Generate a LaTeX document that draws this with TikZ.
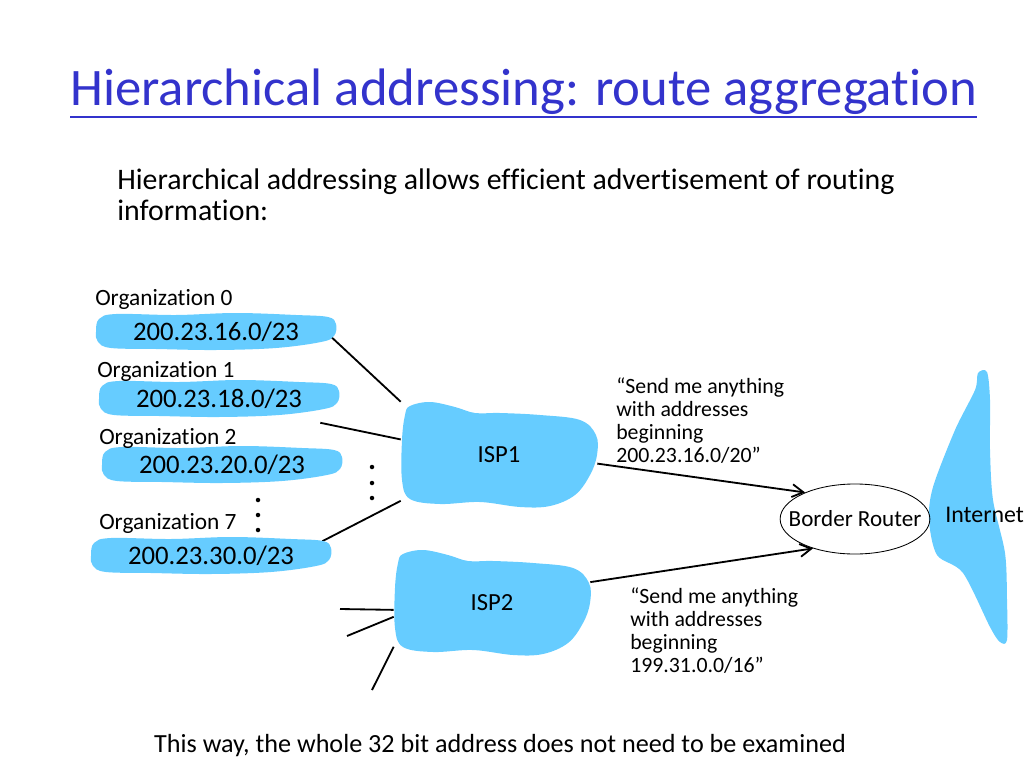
\documentclass[tikz,border=0pt]{standalone}
\usepackage{fontspec}
\setmainfont{Carlito}[Ligatures={TeX,NoCommon}]
\usepackage{tikz}
\usetikzlibrary{shapes.geometric, arrows.meta, positioning, calc, backgrounds}
\definecolor{ttlblue}{RGB}{51,51,204}
\definecolor{netblue}{RGB}{102,204,255}
\definecolor{inkdark}{RGB}{0,0,0}
\tikzset{
  ttl/.style      = {text=ttlblue, inner sep=0pt, font=\fontsize{37.5}{42}\selectfont},
  intro/.style    = {text=inkdark, align=left, inner sep=0pt,
                     font=\fontsize{21.2}{21.5}\selectfont},
  orglab/.style   = {text=inkdark, inner sep=0pt, font=\fontsize{16.6}{19}\selectfont},
  orgaddr/.style  = {rectangle, minimum width=6cm, minimum height=0.925cm,
                     inner sep=0pt, text=inkdark, font=\fontsize{19}{21}\selectfont},
  isp/.style      = {rectangle, minimum width=4.9cm, minimum height=2.65cm,
                     inner sep=0pt, text=inkdark, font=\fontsize{17.5}{19}\selectfont},
  router/.style   = {ellipse, draw=inkdark, line width=0.6pt, minimum width=3.675cm,
                     minimum height=1.75cm, inner xsep=-9.5pt, inner ysep=0pt, text=inkdark,
                     font=\fontsize{16.4}{18}\selectfont},
  cloudlab/.style = {text=inkdark, inner sep=0pt, font=\fontsize{17}{19}\selectfont},
  advert/.style   = {text=inkdark, align=left, inner sep=0pt,
                     font=\fontsize{15.5}{16.5}\selectfont},
  note/.style     = {text=inkdark, inner sep=0pt, font=\fontsize{18.6}{21}\selectfont},
  link/.style     = {line width=1.3pt, draw=inkdark},
  adv/.style      = {-{Straight Barb[length=2.8mm, width=3.2mm]}, line width=1.3pt, draw=inkdark},
  orgblob/.pic    = {\fill[netblue] plot[smooth cycle, tension=0.6] coordinates {
                       (-120,0) (-117,-13) (-100,-18) (-40,-17) (20,-19) (80,-17)
                       (112,-15) (120,-8) (118,4) (105,10) (60,16) (0,18) (-60,17)
                       (-105,16) (-118,10)};},
  ispblob/.pic    = {\fill[netblue] plot[smooth cycle, tension=0.6] coordinates {
                       (-89,-49) (-69,-53) (-44,-48) (-24,-42) (1,-42) (41,-40)
                       (81,-35) (97,-20) (98,0) (91,20) (76,40) (51,51) (21,52)
                       (-19,47) (-59,49) (-89,44) (-97,25) (-97,-15) (-94,-40)};},
}

\begin{document}
\begin{tikzpicture}[x=0.025cm, y=-0.025cm]
  \useasboundingbox (0,0) rectangle (1024,768);

  % title and introduction
  \node[ttl, anchor=base west] (title) at (70,106) {Hierarchical addressing: route aggregation};
  \draw[ttlblue, line width=1.8pt] ($(title.base west)+(0,11)$) -- ($(title.base east)+(0,11)$);
  \node[intro, anchor=north west] (intro) at (117,169)
    {Hierarchical addressing allows efficient advertisement of routing\\information:};

  % organizations
  \node[orglab, anchor=base west] (lab0) at (95,305) {Organization 0};
  \node[orgaddr] (org0) at (216,332) {200.23.16.0/23};
  \node[orglab, anchor=base west] (lab1) at (97,377) {Organization 1};
  \node[orgaddr] (org1) at (219,399) {200.23.18.0/23};
  \node[orglab, anchor=base west] (lab2) at (99,444) {Organization 2};
  \node[orgaddr] (org2) at (222,465) {200.23.20.0/23};
  \node[orglab, anchor=base west] (lab7) at (99,529) {Organization 7};
  \node[orgaddr] (org7) at (211,556) {200.23.30.0/23};

  % providers, router, internet
  \node[isp] (isp1) at (499,455) {ISP1};
  \node[isp] (isp2) at (492,603) {ISP2};
  \node[router] (br) at (855,519) {Border Router};
  \node[cloudlab, anchor=base west] (inet) at (945,522) {Internet};

  \node[advert, anchor=north west] (adv1) at (616,377)
    {``Send me anything\\with addresses\\beginning\\200.23.16.0/20''};
  \node[advert, anchor=north west] (adv2) at (630,587)
    {``Send me anything\\with addresses\\beginning\\199.31.0.0/16''};

  \node[note, anchor=base] (note) at (500,752)
    {This way, the whole 32 bit address does not need to be examined};

  \coordinate (e1) at (340,609);
  \coordinate (e2) at (347,636);
  \coordinate (e3) at (372,690);

  \foreach \y in {500,515,530} \fill[inkdark] (258,\y) circle[radius=1.6pt];
  \foreach \y in {467,483,498} \fill[inkdark] (372,\y) circle[radius=1.6pt];

  \begin{scope}[on background layer]
    \draw[link] ($(org0.east)+(-5,5)$) -- (isp1.north west);
    \draw[link] ($(org1.south east)+(-19,5)$) -- (isp1.171);
    \draw[link] ($(org7.north east)+(-9,4)$) -- (isp1.205);
    \draw[link] (e1) -- (isp2.184);
    \draw[link] (e2) -- (isp2.188);
    \draw[link] (e3) -- (isp2.204);
    \foreach \o in {org0,org1,org2,org7} \pic at (\o) {orgblob};
    \pic at (isp1) {ispblob};
    \pic at (isp2) {ispblob};
    \fill[netblue] plot[smooth cycle, tension=0.5] coordinates {
      (978,373) (987,372) (990,400) (990,450) (993,500) (1005,553) (1007,600)
      (1007,640) (1000,642) (990,627) (963,573) (937,555) (929,520) (933,487)
      (955,430) (975,390)};
  \end{scope}

  \draw[adv] (isp1.-5) -- (br.152);
  \draw[adv] (isp2.12) -- (br.215);
\end{tikzpicture}
\end{document}
